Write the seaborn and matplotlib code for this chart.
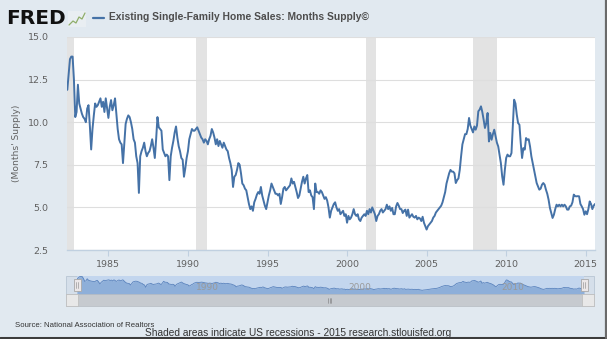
import matplotlib
matplotlib.use("Agg")
import matplotlib.pyplot as plt
from matplotlib.patches import Rectangle
from matplotlib.lines import Line2D
import numpy as np
import pandas as pd
import seaborn as sns

# Existing single-family home sales, months' supply (monthly, Jun 1982 - Aug 2015)
start_year = 1982
start_month = 6
months_supply = [
    # 1982 (Jun-Dec)
    11.9, 12.8, 13.7, 13.85, 13.85, 12.5, 10.3,
    # 1983
    10.6, 12.2, 11.1, 10.8, 10.5, 10.3, 10.2, 10.0, 10.8, 11.0, 9.8, 8.4,
    # 1984
    9.6, 10.4, 11.1, 10.9, 11.0, 11.2, 11.4, 10.9, 11.2, 10.6, 11.4, 10.8,
    # 1985
    10.25, 10.9, 11.3, 10.7, 11.0, 11.4, 10.5, 9.6, 9.0, 8.8, 8.7, 7.6,
    # 1986
    8.8, 9.9, 10.2, 10.4, 10.3, 10.0, 9.6, 9.0, 8.8, 8.0, 7.6, 5.85,
    # 1987
    8.0, 8.3, 8.5, 8.8, 8.3, 8.0, 8.2, 8.3, 8.6, 9.0, 8.5, 7.9,
    # 1988
    9.0, 10.3, 9.7, 9.6, 9.5, 8.4, 8.2, 8.0, 8.1, 8.0, 6.6, 8.0,
    # 1989
    8.5, 8.9, 9.4, 9.75, 9.1, 8.6, 8.3, 7.9, 7.8, 6.8, 7.3, 7.9,
    # 1990
    8.3, 9.0, 9.3, 9.6, 9.5, 9.5, 9.6, 9.7, 9.5, 9.3, 9.1, 9.0,
    # 1991
    8.8, 9.0, 8.9, 8.7, 9.0, 9.2, 9.6, 9.4, 9.1, 8.7, 9.0, 8.6,
    # 1992
    8.9, 8.7, 8.5, 8.8, 8.6, 8.4, 8.3, 7.9, 7.6, 7.2, 6.2, 6.8,
    # 1993
    6.9, 7.2, 7.6, 7.5, 7.0, 6.4, 6.3, 6.1, 6.0, 5.6, 5.2, 4.9,
    # 1994
    5.06, 4.8, 5.3, 5.5, 5.75, 5.9, 5.8, 6.2, 5.7, 5.4, 5.1, 4.9,
    # 1995
    5.3, 5.7, 6.0, 6.4, 6.2, 6.0, 5.8, 5.8, 5.7, 5.8, 5.2, 5.6,
    # 1996
    6.1, 6.2, 6.0, 6.1, 6.2, 6.3, 6.7, 6.4, 6.5, 6.2, 5.9, 5.55,
    # 1997
    5.7, 6.1, 6.5, 6.8, 6.4, 6.7, 6.9, 5.9, 6.0, 5.7, 5.6, 4.9,
    # 1998
    6.4, 5.9, 5.9, 5.8, 6.0, 5.9, 5.7, 5.5, 5.6, 5.4, 5.0, 4.4,
    # 1999
    4.8, 5.0, 5.2, 5.3, 5.0, 4.8, 4.9, 4.6, 4.7, 4.8, 4.5, 4.6,
    # 2000
    4.1, 4.5, 4.3, 4.4, 4.6, 4.9, 4.6, 4.5, 4.6, 4.3, 4.2, 4.4,
    # 2001
    4.5, 4.6, 4.5, 4.8, 4.6, 4.9, 4.7, 5.0, 4.8, 4.6, 4.2, 4.5,
    # 2002
    4.6, 4.8, 4.9, 4.7, 4.8, 4.9, 5.16, 4.9, 5.06, 4.8, 4.97, 4.6,
    # 2003
    4.6, 5.06, 5.26, 5.1, 4.9, 4.9, 4.67, 4.8, 4.87, 4.5, 4.87, 4.4,
    # 2004
    4.5, 4.6, 4.45, 4.4, 4.5, 4.3, 4.4, 4.35, 4.2, 4.45, 4.1, 3.9,
    # 2005
    3.7, 3.9, 4.0, 4.1, 4.2, 4.4, 4.5, 4.7, 4.8, 4.9, 5.0, 5.1,
    # 2006
    5.3, 5.6, 5.9, 6.4, 6.7, 7.0, 7.2, 7.1, 7.1, 7.0, 6.43, 6.6,
    # 2007
    6.7, 7.2, 8.0, 8.7, 9.0, 9.3, 9.3, 9.6, 10.25, 9.8, 9.6, 9.4,
    # 2008
    9.75, 9.56, 9.8, 10.64, 10.74, 10.93, 10.6, 10.15, 9.66, 9.95, 10.54, 8.87,
    # 2009
    9.37, 8.97, 9.3, 9.56, 9.17, 8.8, 8.58, 8.1, 7.6, 6.82, 6.33, 7.2,
    # 2010
    7.9, 8.1, 8.0, 8.0, 8.19, 9.8, 11.32, 11.1, 10.44, 9.95, 9.85, 8.78,
    # 2011
    7.9, 8.48, 8.39, 9.07, 8.97, 9.0, 8.58, 8.0, 7.6, 7.2, 6.8, 6.43,
    # 2012
    6.23, 6.04, 6.1, 6.33, 6.43, 6.33, 6.04, 5.8, 5.45, 4.97, 4.67, 4.38,
    # 2013
    4.57, 4.9, 5.16, 5.06, 5.16, 5.06, 5.16, 5.06, 5.16, 5.06, 4.87, 4.87,
    # 2014
    5.06, 5.1, 5.3, 5.75, 5.66, 5.65, 5.66, 5.65, 5.2, 5.06, 4.9, 4.57,
    # 2015 (Jan-Aug)
    4.77, 4.6, 4.9, 5.35, 5.2, 4.9, 5.1, 5.2,
]

# NBER recessions (start, end) in decimal years
recessions = [(1981.58, 1982.83), (1990.5, 1991.17), (2001.17, 2001.83), (2007.92, 2009.42)]

y_ticks = [2.5, 5.0, 7.5, 10.0, 12.5, 15.0]
y_tick_labels = ["2.5", "5.0", "7.5", "10.0", "12.5", "15.0"]
x_ticks = [1985, 1990, 1995, 2000, 2005, 2010, 2015]
nav_labels = [1990, 2000, 2010]

title = "Existing Single-Family Home Sales: Months Supply\u00a9"
y_label = "(Months' Supply)"
source = "Source: National Association of Realtors"
footer = "Shaded areas indicate US recessions - 2015 research.stlouisfed.org"

LINE = "#4572a7"
BG = "#e1e9f0"
TXT = "#606060"

sns.set_style("white")
plt.rcParams["font.family"] = ["DejaVu Sans"]

n = len(months_supply)
years = start_year + (start_month - 1) / 12 + np.arange(n) / 12
df = pd.DataFrame({"year": years, "months_supply": months_supply})

W, H = 609, 339
fig = plt.figure(figsize=(W / 100, H / 100), dpi=100)
fig.patch.set_facecolor(BG)


def fx(px):
    return px / W


def fy(py):
    return 1 - py / H


def frect(x0, y0, x1, y1, z, **kw):
    fig.patches.append(Rectangle((fx(x0), fy(y1)), fx(x1 - x0), (y1 - y0) / H,
                                 transform=fig.transFigure, zorder=z, **kw))


def fline(xs, ys, z=5, **kw):
    fig.lines.append(Line2D([fx(v) for v in xs], [fy(v) for v in ys],
                            transform=fig.transFigure, zorder=z, **kw))


# main plot
L, R, T, B = 67.3, 595, 37, 250
ax = fig.add_axes([fx(L), fy(B), fx(R - L), (B - T) / H])
ax.set_facecolor("white")
for a, b in recessions:
    ax.axvspan(a, b, color="#e3e3e3", lw=0, zorder=0)
sns.lineplot(data=df, x="year", y="months_supply", ax=ax, color=LINE, lw=1.4, zorder=3)
ax.set_xlim(years[0], years[-1])
ax.set_ylim(2.5, 15)
ax.set_yticks(y_ticks)
ax.set_yticklabels(y_tick_labels)
ax.set_xticks(x_ticks)
ax.set_xticklabels([str(t) for t in x_ticks])
ax.yaxis.grid(True, color="#dedede", lw=0.8, zorder=1)
ax.xaxis.grid(False)
ax.set_axisbelow(False)
for s in ["top", "left", "right"]:
    ax.spines[s].set_visible(False)
ax.spines["bottom"].set_color("#c0d0e0")
ax.spines["bottom"].set_linewidth(1.0)
ax.tick_params(axis="y", length=0, pad=13.5, labelsize=6.8, labelcolor=TXT)
ax.tick_params(axis="x", length=4.5, width=0.8, color="#c0d0e0", pad=2.5,
               labelsize=6.8, labelcolor=TXT, bottom=True)
ax.set_xlabel("")
ax.set_ylabel("")

fig.text(fx(16.5), fy(143.5), y_label, rotation=90, ha="center", va="center",
         fontsize=6.6, color=TXT)

# header: logo and legend
fig.text(fx(6), fy(18.5), "FRED", fontsize=14.5, fontweight="heavy", color="#111111",
         ha="left", va="center")
frect(68, 11, 86, 27, 2, facecolor="#e9eef2", edgecolor="none")
fline((69, 73, 76, 79, 82, 85), (25, 21, 23, 17, 19, 13), color="#8fae6a", lw=0.9)
fline((93, 104), (17.5, 17.5), color=LINE, lw=1.6)
fig.text(fx(109), fy(17.5), title, fontsize=7.4, fontweight="bold", color="#4d4d4d",
         ha="left", va="center", family=["Liberation Sans", "DejaVu Sans"])

# navigator
NL, NR, NT, NB = 66, 594, 276, 294
frect(NL, NT, NR, NB, -5, facecolor="#d5dfea", edgecolor="#b8c6d4", lw=0.6)
nav = fig.add_axes([fx(77), fy(NB), fx(584 - 77), (NB - NT) / H])
nav.set_zorder(1)
nav.set_facecolor("#c3d6ee")
nav.fill_between(df["year"], df["months_supply"], 0, color="#8eafd9", lw=0)
sns.lineplot(data=df, x="year", y="months_supply", ax=nav, color="#5a83bd", lw=0.6)
nav.set_xlim(years[0], years[-1])
nav.set_ylim(1.0, 14.2)
nav.set_xticks([])
nav.set_yticks([])
nav.set_xlabel("")
nav.set_ylabel("")
for s in nav.spines.values():
    s.set_visible(False)
for yr in nav_labels:
    nav.text(yr + 0.2, 0.38, str(yr), transform=nav.get_xaxis_transform(),
             fontsize=6.5, color="#9a9a9a", ha="left", va="center")

# navigator handles
for hx in (73.5, 580.5):
    frect(hx, 279, hx + 7, 291, 6, facecolor="#ebe7e8", edgecolor="#a8a8a8", lw=0.6)
    for dx in (2.5, 4.5):
        fline((hx + dx, hx + dx), (282, 288), z=7, color="#999999", lw=0.5)

# scrollbar
SB_T, SB_B = 294, 306
frect(NL, SB_T, NR, SB_B, 4, facecolor="#c6cacf", edgecolor="#b6bbc1", lw=0.5)
for bx in (NL, NR - 12):
    frect(bx, SB_T, bx + 12, SB_B, 5, facecolor="#e8e8e8", edgecolor="#bbbbbb", lw=0.5)
fig.text(fx(NL + 6), fy(300), "\u25c2", fontsize=4.5, color="#444444", ha="center", va="center")
fig.text(fx(NR - 6), fy(300), "\u25b8", fontsize=4.5, color="#444444", ha="center", va="center")
for gx in (328.5, 330, 331.5):
    fline((gx, gx), (297.5, 302.5), z=6, color="#777777", lw=0.4)

# footer texts
fig.text(fx(15), fy(325.5), source, fontsize=5.6, color="#333333", ha="left", va="center",
         family=["Liberation Sans", "DejaVu Sans"])
fig.text(fx(298), fy(333.5), footer, fontsize=7.3, color="#333333", ha="center",
         va="center", family=["Liberation Sans", "DejaVu Sans"])

# picture frame
fline((0, 605.5), (337.5, 337.5), z=8, color="#3c3c3c", lw=2.2)
fline((605.5, 605.5), (0, 337.5), z=8, color="#6a6a6a", lw=1.6)
frect(606.5, 0, 609, 339, 8, facecolor="white", edgecolor="none")

fig.savefig("out.png", dpi=100, facecolor=fig.get_facecolor())
